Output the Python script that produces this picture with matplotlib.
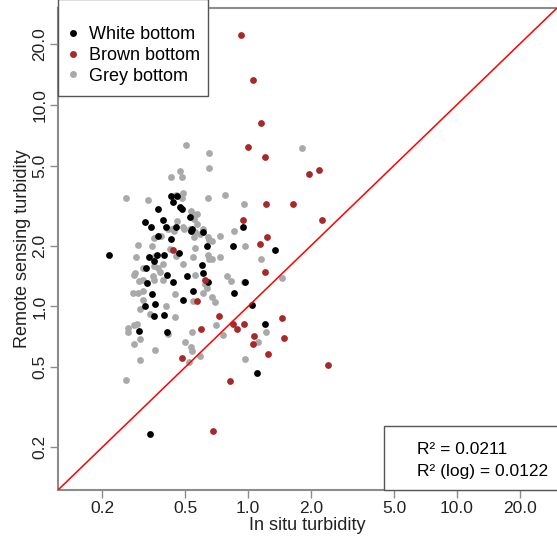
import matplotlib
matplotlib.use("Agg")
import matplotlib.pyplot as plt
from matplotlib.patches import Rectangle
from matplotlib.lines import Line2D
from matplotlib.ticker import FixedLocator, NullLocator

plt.rcParams['font.family'] = ['Liberation Sans', 'DejaVu Sans']

# In situ (x) / remote sensing (y) turbidity
white_x = [0.216, 0.321, 0.343, 0.371, 0.392, 0.405, 0.428, 0.438, 0.457, 0.473,
           0.483, 0.528, 0.453, 0.534, 0.609, 0.371, 0.428, 0.637, 0.848, 0.946,
           1.346, 0.468, 0.603, 0.336, 0.367, 0.396, 0.325, 0.355, 0.511, 0.438,
           0.329, 0.347, 0.489, 0.410, 0.540, 0.609, 0.644, 0.857, 0.545, 1.045,
           0.967, 0.359, 0.321, 0.355, 0.396, 0.301, 0.410, 1.206, 1.104, 0.340]
white_y = [1.79, 2.61, 2.47, 3.06, 2.67, 2.47, 3.51, 3.28, 3.51, 3.10,
           3.03, 2.77, 2.49, 2.38, 2.33, 2.23, 2.15, 1.99, 1.99, 2.47,
           1.90, 1.85, 1.60, 1.75, 1.79, 1.79, 1.56, 1.69, 1.41, 1.32,
           1.30, 1.15, 1.08, 1.44, 2.41, 1.46, 1.32, 1.17, 1.19, 1.02,
           1.32, 1.03, 1.01, 0.892, 0.902, 0.760, 0.743, 0.823, 0.470, 0.232]

brown_x = [0.926, 1.057, 1.154, 1.0, 1.206, 1.219, 0.946, 1.233, 1.141, 0.438,
           1.206, 0.623, 0.570, 0.726, 0.596, 0.848, 0.886, 0.957, 1.068, 1.057,
           1.247, 0.483, 0.820, 0.680, 1.455, 1.486, 2.414, 1.958, 2.186, 1.642,
           2.259]
brown_y = [22.1, 13.2, 8.09, 6.15, 5.49, 3.21, 2.67, 2.20, 2.03, 1.90,
           1.49, 1.36, 1.06, 0.892, 0.769, 0.823, 0.769, 0.814, 0.710, 0.655,
           0.578, 0.558, 0.429, 0.240, 0.872, 0.694, 0.515, 4.52, 4.73, 3.21,
           2.67]

grey_x = [0.505, 0.651, 0.651, 0.473, 0.483, 0.428, 0.261, 0.332, 0.489, 0.483,
          0.453, 0.644, 0.776, 0.957, 0.534, 0.545, 0.570, 1.813, 0.552, 0.457,
          0.489, 0.414, 0.443, 0.589, 0.552, 0.651, 0.734, 0.857, 0.967, 1.154,
          0.298, 0.347, 0.355, 0.291, 0.359, 0.392, 0.545, 0.644, 0.651, 0.734,
          0.315, 0.489, 0.494, 0.433, 0.384, 0.423, 0.453, 0.355, 0.371, 0.379,
          0.351, 0.285, 0.301, 0.315, 0.392, 0.355, 0.282, 0.298, 0.315, 0.315,
          0.448, 0.545, 0.528, 0.570, 0.609, 0.557, 0.644, 0.673, 0.557, 0.673,
          0.557, 0.623, 0.609, 0.794, 0.830, 0.957, 0.673, 0.695, 1.455, 0.304,
          0.405, 0.340, 0.448, 0.294, 0.285, 0.267, 0.267, 0.414, 0.540, 0.304,
          0.285, 0.359, 0.500, 0.534, 0.540, 0.304, 0.522, 0.261, 0.703, 0.759,
          0.589, 1.219, 1.116, 0.967, 0.288, 0.637]
grey_y = [6.30, 5.74, 4.84, 4.68, 4.37, 4.37, 3.47, 3.36, 3.64, 3.44,
          3.56, 3.47, 3.59, 3.21, 2.96, 2.86, 2.86, 6.08, 2.73, 2.64,
          2.49, 2.41, 2.36, 2.28, 2.20, 2.13, 2.23, 2.38, 1.99, 1.71,
          2.01, 1.99, 2.18, 1.75, 1.77, 1.62, 1.75, 1.81, 1.71, 1.75,
          1.56, 1.62, 2.41, 2.41, 2.23, 1.92, 1.77, 1.58, 1.56, 1.48,
          1.41, 1.44, 1.33, 1.35, 1.36, 1.36, 1.16, 1.16, 1.19, 1.08,
          1.15, 1.07, 2.41, 2.55, 2.41, 2.33, 2.20, 2.10, 1.94, 1.71,
          1.44, 1.29, 1.17, 1.41, 1.33, 1.32, 1.11, 1.05, 1.39, 0.966,
          1.00, 0.913, 0.882, 0.823, 0.805, 0.778, 0.743, 0.734, 0.751, 0.686,
          0.648, 0.605, 0.663, 0.633, 0.598, 0.540, 0.528, 0.434, 0.805, 0.718,
          0.565, 0.751, 0.670, 0.552, 1.46, 1.24]

ticks = [0.2, 0.5, 1.0, 2.0, 5.0, 10.0, 20.0]
tick_labels = ['0.2', '0.5', '1.0', '2.0', '5.0', '10.0', '20.0']
lims = [0.123, 30.2]
r2_text = ['R\u00b2 = 0.0211', 'R\u00b2 (log) = 0.0122']

col_white = '#000000'
col_brown = '#A52A2A'
col_grey = '#A9A9A9'
axis_col = '#8C8C8C'
text_col = '#222222'

fig = plt.figure(figsize=(5.57, 5.39), dpi=100)
ax = fig.add_axes([58 / 557, 49 / 539, 499 / 557, 482 / 539])
ax.set_xscale('log')
ax.set_yscale('log')
ax.set_xlim(lims)
ax.set_ylim(lims)

ax.scatter(grey_x, grey_y, s=24, color=col_grey, linewidths=0, zorder=2)
ax.scatter(white_x, white_y, s=24, color=col_white, linewidths=0, zorder=3)
ax.scatter(brown_x, brown_y, s=24, color=col_brown, linewidths=0, zorder=4)

# 1:1 line
ax.plot(lims, lims, color='#FF0000', lw=1.1, zorder=5)

for a in (ax.xaxis, ax.yaxis):
    a.set_major_locator(FixedLocator(ticks))
    a.set_minor_locator(NullLocator())
ax.set_xticklabels(tick_labels)
ax.set_yticklabels(tick_labels, rotation=90, va='center')
ax.tick_params(length=6, width=1, color=axis_col, labelsize=12.5,
               labelcolor=text_col)
ax.tick_params(axis='x', pad=2)
ax.tick_params(axis='y', pad=1.5)

for side in ('left', 'bottom', 'top'):
    ax.spines[side].set_color(axis_col)
    ax.spines[side].set_linewidth(1.5)
ax.spines['right'].set_visible(False)

ax.set_xlabel('In situ turbidity', fontsize=13, labelpad=1, color=text_col)
ax.set_ylabel('Remote sensing turbidity', fontsize=13, labelpad=1, color=text_col)

# legend: frame drawn separately so its box matches the original
ax.add_patch(Rectangle((0, 0.818), 0.301, 0.2, transform=ax.transAxes,
                       facecolor='white', edgecolor='#555555', lw=1.0,
                       zorder=6, clip_on=False))
handles = [Line2D([], [], ls='', marker='o', ms=5, color=c, mec='none')
           for c in (col_white, col_brown, col_grey)]
leg = ax.legend(handles, ['White bottom', 'Brown bottom', 'Grey bottom'],
                loc='upper left', bbox_to_anchor=(0.019, 0.962), borderaxespad=0,
                fontsize=13, frameon=False, handlelength=0.6,
                handletextpad=0.6, labelspacing=0.2, borderpad=0)
leg.set_zorder(7)

# R² box in lower right
ax.add_patch(Rectangle((0.653, 0), 0.4, 0.133, transform=ax.transAxes,
                       facecolor='white', edgecolor='#555555', lw=1.0,
                       zorder=6, clip_on=False))
ax.text(0.719, 0.083, r2_text[0], transform=ax.transAxes, fontsize=12.5,
        va='center', ha='left', zorder=7)
ax.text(0.719, 0.039, r2_text[1], transform=ax.transAxes, fontsize=12.5,
        va='center', ha='left', zorder=7)

fig.savefig('out.png', dpi=100)
